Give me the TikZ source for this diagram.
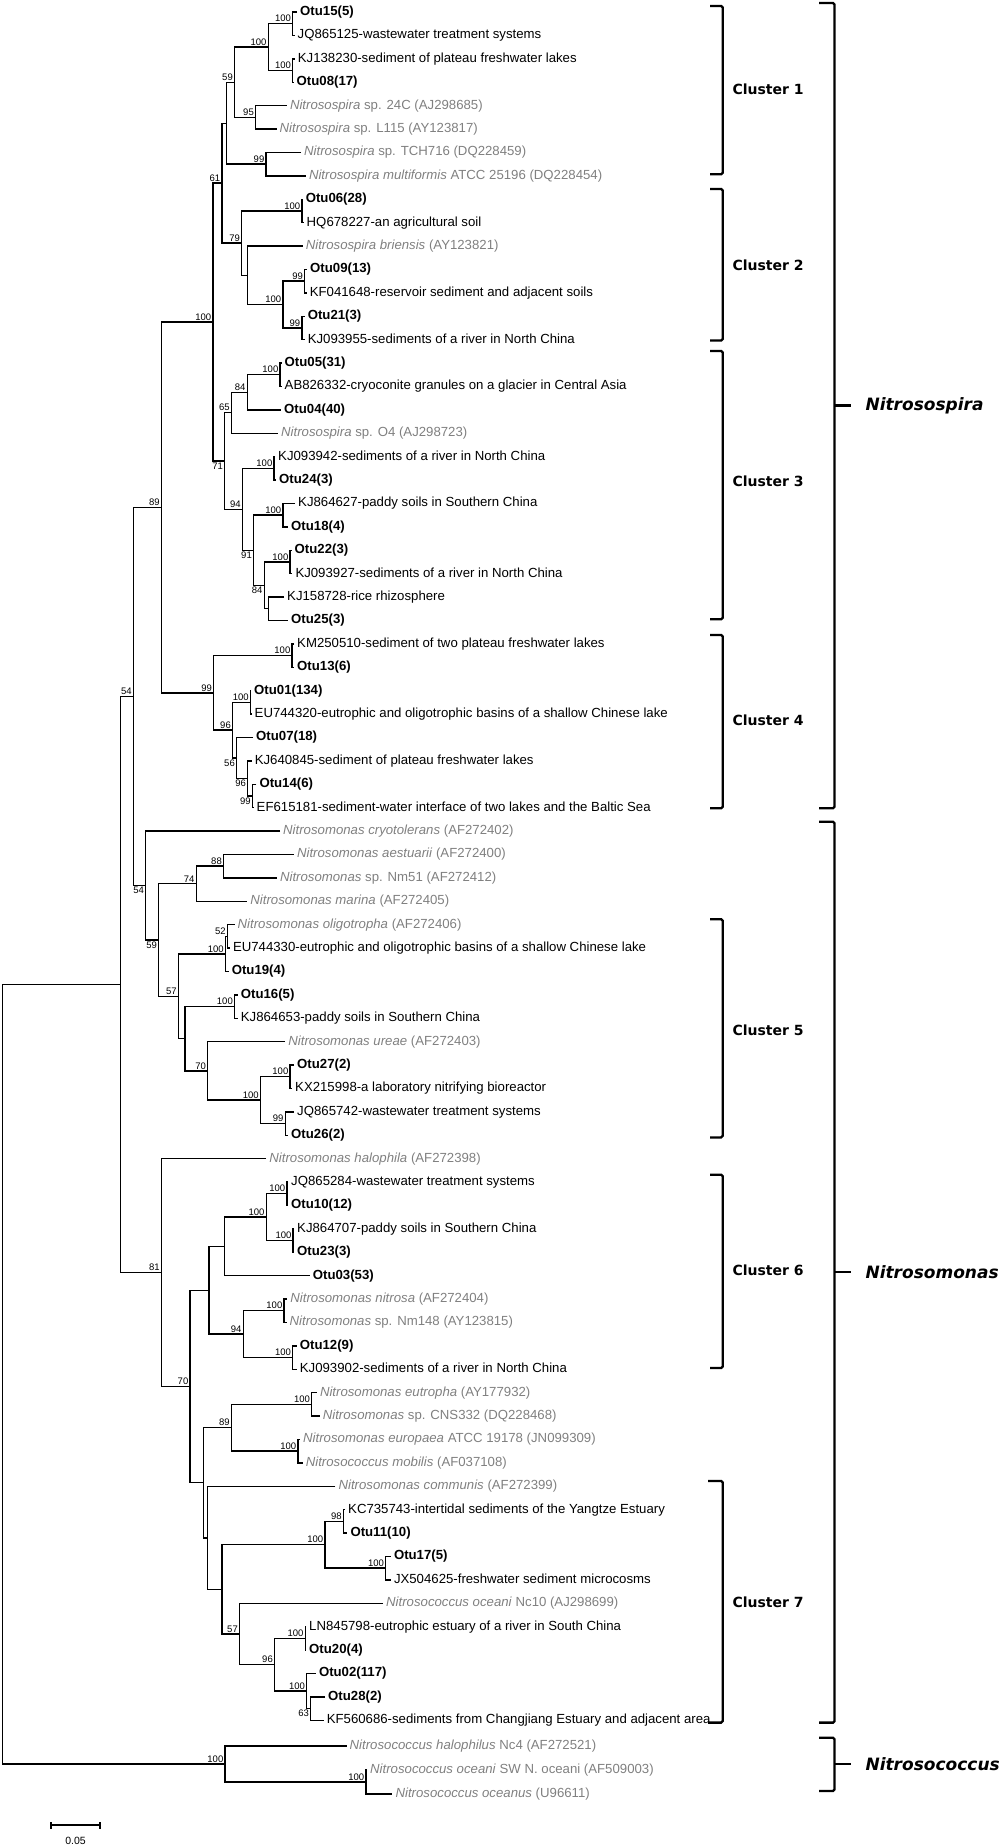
\documentclass[tikz,border=0pt]{standalone}
\usepackage{fontspec}
\setmainfont{Liberation Sans}
\newfontfamily\cladefont{DejaVu Sans}
\definecolor{refgray}{RGB}{128,128,128}
\newcommand{\leafsize}{\fontsize{13.2}{15}\selectfont}
\tikzset{
  branch/.style={line width=1.4pt},
  leaf/.style={anchor=west, inner xsep=3pt, inner ysep=0pt, text height=9.6pt, text depth=2.8pt, font=\leafsize},
  otu/.style={leaf, font=\leafsize\bfseries},
  ref/.style={leaf, text=refgray},
  boot/.style={anchor=south east, inner sep=1.5pt, font=\fontsize{9.5}{10}\selectfont},
  bootlow/.style={boot, anchor=north east},
  clade/.style={line width=2.3pt, rounded corners=1.5pt},
  cluster/.style={anchor=west, font=\cladefont\fontsize{14}{16}\selectfont\bfseries},
  genus/.style={anchor=west, font=\cladefont\fontsize{17}{20}\selectfont\bfseries\itshape}
}

\begin{document}
\begin{tikzpicture}[x=1pt,y=-1pt]
\useasboundingbox (0,0) rectangle (1000,1847);

% leaves
\node (otu15) at (297,12) [otu] {Otu15(5)};
\node (jq865125) at (294.5,35.4) [leaf] {JQ865125-wastewater treatment systems};
\node (kj138230) at (294.7,58.8) [leaf] {KJ138230-sediment of plateau freshwater lakes};
\node (otu08) at (293.5,82.2) [otu] {Otu08(17)};
\node (nsp24c) at (286.8,105.6) [ref] {\textit{Nitrosospira} sp. 24C (AJ298685)};
\node (nspl115) at (276.5,129) [ref] {\textit{Nitrosospira} sp. L115 (AY123817)};
\node (nsptch) at (301,152.4) [ref] {\textit{Nitrosospira} sp. TCH716 (DQ228459)};
\node (nspmult) at (305.8,175.8) [ref] {\textit{Nitrosospira multiformis} ATCC 25196 (DQ228454)};
\node (otu06) at (302.6,199.2) [otu] {Otu06(28)};
\node (hq678227) at (303.5,222.6) [leaf] {HQ678227-an agricultural soil};
\node (nspbrien) at (302.6,246) [ref] {\textit{Nitrosospira briensis} (AY123821)};
\node (otu09) at (307,269.4) [otu] {Otu09(13)};
\node (kf041648) at (306.6,292.8) [leaf] {KF041648-reservoir sediment and adjacent soils};
\node (otu21) at (304.6,316.2) [otu] {Otu21(3)};
\node (kj093955) at (304.6,339.6) [leaf] {KJ093955-sediments of a river in North China};
\node (otu05) at (281.5,363) [otu] {Otu05(31)};
\node (ab826332) at (281.5,386.4) [leaf] {AB826332-cryoconite granules on a glacier in Central Asia};
\node (otu04) at (281,409.8) [otu] {Otu04(40)};
\node (nspo4) at (278,433.2) [ref] {\textit{Nitrosospira} sp. O4 (AJ298723)};
\node (kj093942) at (275,456.6) [leaf] {KJ093942-sediments of a river in North China};
\node (otu24) at (276,480) [otu] {Otu24(3)};
\node (kj864627) at (295,503.4) [leaf] {KJ864627-paddy soils in Southern China};
\node (otu18) at (288,526.8) [otu] {Otu18(4)};
\node (otu22) at (291.5,550.2) [otu] {Otu22(3)};
\node (kj093927) at (292.3,573.6) [leaf] {KJ093927-sediments of a river in North China};
\node (kj158728) at (284,597) [leaf] {KJ158728-rice rhizosphere};
\node (otu25) at (288,620.4) [otu] {Otu25(3)};
\node (km250510) at (294,643.8) [leaf] {KM250510-sediment of two plateau freshwater lakes};
\node (otu13) at (294,667.2) [otu] {Otu13(6)};
\node (otu01) at (251,690.6) [otu] {Otu01(134)};
\node (eu744320) at (251.5,714) [leaf] {EU744320-eutrophic and oligotrophic basins of a shallow Chinese lake};
\node (otu07) at (253,737.4) [otu] {Otu07(18)};
\node (kj640845) at (251.6,760.8) [leaf] {KJ640845-sediment of plateau freshwater lakes};
\node (otu14) at (256.3,784.2) [otu] {Otu14(6)};
\node (ef615181) at (253.5,807.6) [leaf] {EF615181-sediment-water interface of two lakes and the Baltic Sea};
\node (nmcryo) at (280,831) [ref] {\textit{Nitrosomonas cryotolerans} (AF272402)};
\node (nmaest) at (293.9,854.4) [ref] {\textit{Nitrosomonas aestuarii} (AF272400)};
\node (nmnm51) at (276.9,877.8) [ref] {\textit{Nitrosomonas} sp. Nm51 (AF272412)};
\node (nmmar) at (247.2,901.2) [ref] {\textit{Nitrosomonas marina} (AF272405)};
\node (nmolig) at (234.5,924.6) [ref] {\textit{Nitrosomonas oligotropha} (AF272406)};
\node (eu744330) at (229.8,948) [leaf] {EU744330-eutrophic and oligotrophic basins of a shallow Chinese lake};
\node (otu19) at (228.6,971.4) [otu] {Otu19(4)};
\node (otu16) at (237.7,994.8) [otu] {Otu16(5)};
\node (kj864653) at (237.7,1018.2) [leaf] {KJ864653-paddy soils in Southern China};
\node (nmureae) at (285.2,1041.6) [ref] {\textit{Nitrosomonas ureae} (AF272403)};
\node (otu27) at (294,1065) [otu] {Otu27(2)};
\node (kx215998) at (292,1088.4) [leaf] {KX215998-a laboratory nitrifying bioreactor};
\node (jq865742) at (294,1111.8) [leaf] {JQ865742-wastewater treatment systems};
\node (otu26) at (288,1135.2) [otu] {Otu26(2)};
\node (nmhalo) at (266.2,1158.6) [ref] {\textit{Nitrosomonas halophila} (AF272398)};
\node (jq865284) at (288,1182) [leaf] {JQ865284-wastewater treatment systems};
\node (otu10) at (288,1205.4) [otu] {Otu10(12)};
\node (kj864707) at (294,1228.8) [leaf] {KJ864707-paddy soils in Southern China};
\node (otu23) at (294,1252.2) [otu] {Otu23(3)};
\node (otu03) at (309.7,1275.6) [otu] {Otu03(53)};
\node (nmnitrosa) at (287.2,1299) [ref] {\textit{Nitrosomonas nitrosa} (AF272404)};
\node (nmnm148) at (286.5,1322.4) [ref] {\textit{Nitrosomonas} sp. Nm148 (AY123815)};
\node (otu12) at (296.7,1345.8) [otu] {Otu12(9)};
\node (kj093902) at (296.7,1369.2) [leaf] {KJ093902-sediments of a river in North China};
\node (nmeutr) at (316.8,1392.6) [ref] {\textit{Nitrosomonas eutropha} (AY177932)};
\node (nmcns) at (319.6,1416) [ref] {\textit{Nitrosomonas} sp. CNS332 (DQ228468)};
\node (nmeuro) at (300,1439.4) [ref] {\textit{Nitrosomonas europaea} ATCC 19178 (JN099309)};
\node (ncmob) at (302.6,1462.8) [ref] {\textit{Nitrosococcus mobilis} (AF037108)};
\node (nmcomm) at (335.4,1486.2) [ref] {\textit{Nitrosomonas communis} (AF272399)};
\node (kc735743) at (345,1509.6) [leaf] {KC735743-intertidal sediments of the Yangtze Estuary};
\node (otu11) at (347.3,1533) [otu] {Otu11(10)};
\node (otu17) at (390.8,1556.4) [otu] {Otu17(5)};
\node (jx504625) at (390.8,1579.8) [leaf] {JX504625-freshwater sediment microcosms};
\node (ncnc10) at (383,1603.2) [ref] {\textit{Nitrosococcus oceani} Nc10 (AJ298699)};
\node (ln845798) at (306,1626.6) [leaf] {LN845798-eutrophic estuary of a river in South China};
\node (otu20) at (306,1650) [otu] {Otu20(4)};
\node (otu02) at (315.8,1673.4) [otu] {Otu02(117)};
\node (otu28) at (325,1696.8) [otu] {Otu28(2)};
\node (kf560686) at (323.6,1720.2) [leaf] {KF560686-sediments from Changjiang Estuary and adjacent area};
\node (nchalo) at (346.5,1746) [ref] {\textit{Nitrosococcus halophilus} Nc4 (AF272521)};
\node (ncsw) at (367,1770) [ref] {\textit{Nitrosococcus oceani} SW N. oceani (AF509003)};
\node (ncoceanus) at (392.4,1794) [ref] {\textit{Nitrosococcus oceanus} (U96611)};

% inner nodes and bootstrap values
\coordinate (a1) at (292.7,23.7);   \node (a1b) at (a1) [boot] {100};
\coordinate (a2) at (292.7,70.5);   \node (a2b) at (a2) [boot] {100};
\coordinate (a3) at (268.2,47.1);   \node (a3b) at (a3) [boot] {100};
\coordinate (a4) at (255.5,117.3);  \node (a4b) at (a4) [boot] {95};
\coordinate (a5) at (234.5,82.2);   \node (a5b) at (a5) [boot] {59};
\coordinate (a6) at (266,164.1);    \node (a6b) at (a6) [boot] {99};
\coordinate (a7) at (226.6,123.2);
\coordinate (b1) at (301.8,210.9);  \node (b1b) at (b1) [boot] {100};
\coordinate (b2) at (304.6,281.1);  \node (b2b) at (b2) [boot] {99};
\coordinate (b3) at (301.8,327.9);  \node (b3b) at (b3) [boot] {99};
\coordinate (b4) at (282.8,304.5);  \node (b4b) at (b4) [boot] {100};
\coordinate (b5) at (247.2,275.3);
\coordinate (b6) at (241.7,243.1);  \node (b6b) at (b6) [boot] {79};
\coordinate (h61) at (221.9,183.1); \node (h61b) at (h61) [boot] {61};
\coordinate (c1) at (280,374.7);    \node (c1b) at (c1) [boot] {100};
\coordinate (c2) at (247.2,392.3);  \node (c2b) at (c2) [boot] {84};
\coordinate (c3) at (231.4,412.7);  \node (c3b) at (c3) [boot] {65};
\coordinate (c4) at (274,468.3);    \node (c4b) at (c4) [boot] {100};
\coordinate (c5) at (282.8,515.1);  \node (c5b) at (c5) [boot] {100};
\coordinate (c6) at (290,561.9);    \node (c6b) at (c6) [boot] {100};
\coordinate (c7) at (268.2,608.7);
\coordinate (c8) at (264.2,585.3);  \node (c8b) at (c8) [bootlow] {84};
\coordinate (c9) at (253.5,550.2);  \node (c9b) at (c9) [bootlow] {91};
\coordinate (c10) at (242.4,509.3); \node (c10b) at (c10) [boot] {94};
\coordinate (c11) at (224.6,461);   \node (c11b) at (c11) [bootlow] {71};
\coordinate (p100) at (212.8,322);  \node (p100b) at (p100) [boot] {100};
\coordinate (d1) at (292,655.5);    \node (d1b) at (d1) [boot] {100};
\coordinate (d2) at (250.3,702.3);  \node (d2b) at (d2) [boot] {100};
\coordinate (d3) at (252.3,795.9);  \node (d3b) at (d3) [bootlow] {99};
\coordinate (d4) at (247.6,778.4);  \node (d4b) at (d4) [bootlow] {96};
\coordinate (d5) at (236.5,757.9);  \node (d5b) at (d5) [bootlow] {56};
\coordinate (d6) at (232.5,730.1);  \node (d6b) at (d6) [boot] {96};
\coordinate (d7) at (213.6,692.8);  \node (d7b) at (d7) [boot] {99};
\coordinate (spira) at (161.3,507.4); \node (spirab) at (spira) [boot] {89};
\coordinate (e1) at (223.5,866.1);  \node (e1b) at (e1) [boot] {88};
\coordinate (e2) at (196.2,883.7);  \node (e2b) at (e2) [boot] {74};
\coordinate (e3) at (227.4,936.3);  \node (e3b) at (e3) [boot] {52};
\coordinate (e4) at (225.4,953.9);  \node (e4b) at (e4) [boot] {100};
\coordinate (e5) at (234.5,1006.5); \node (e5b) at (e5) [boot] {100};
\coordinate (e6) at (290,1076.7);   \node (e6b) at (e6) [boot] {100};
\coordinate (e7) at (285.2,1123.5); \node (e7b) at (e7) [boot] {99};
\coordinate (e8) at (260.3,1100.1); \node (e8b) at (e8) [boot] {100};
\coordinate (e9) at (207.6,1070.9); \node (e9b) at (e9) [boot] {70};
\coordinate (e10) at (185,1038.7);
\coordinate (e11) at (178.3,996.3); \node (e11b) at (e11) [boot] {57};
\coordinate (e12) at (158.6,940);   \node (e12b) at (e12) [bootlow] {59};
\coordinate (e13) at (145.7,885.5); \node (e13b) at (e13) [bootlow] {54};
\coordinate (top54) at (133.3,696.5); \node (top54b) at (top54) [boot] {54};
\coordinate (f1) at (286.8,1193.7); \node (f1b) at (f1) [boot] {100};
\coordinate (f2) at (293.1,1240.5); \node (f2b) at (f2) [boot] {100};
\coordinate (f3) at (266.2,1217.1); \node (f3b) at (f3) [boot] {100};
\coordinate (f4) at (224.6,1246.4);
\coordinate (f5) at (284,1310.7);   \node (f5b) at (f5) [boot] {100};
\coordinate (f6) at (292.7,1357.5); \node (f6b) at (f6) [boot] {100};
\coordinate (f7) at (243.2,1334.1); \node (f7b) at (f7) [boot] {94};
\coordinate (f8) at (208.8,1290.2);
\coordinate (g1) at (311.7,1404.3); \node (g1b) at (g1) [boot] {100};
\coordinate (g2) at (297.9,1451.1); \node (g2b) at (g2) [boot] {100};
\coordinate (g3) at (231.4,1427.7); \node (g3b) at (g3) [boot] {89};
\coordinate (g4) at (343.4,1521.3); \node (g4b) at (g4) [boot] {98};
\coordinate (g5) at (385.7,1568.1); \node (g5b) at (g5) [boot] {100};
\coordinate (g6) at (324.8,1544.7); \node (g6b) at (g6) [boot] {100};
\coordinate (g7) at (305.2,1638.3); \node (g7b) at (g7) [boot] {100};
\coordinate (g8) at (310.7,1708.5); \node (g8b) at (g8) [bootlow] {63};
\coordinate (g9) at (306.6,1691);   \node (g9b) at (g9) [boot] {100};
\coordinate (g10) at (274.5,1664.6); \node (g10b) at (g10) [boot] {96};
\coordinate (g11) at (239.5,1633.9); \node (g11b) at (g11) [boot] {57};
\coordinate (g12) at (222,1589.3);
\coordinate (g13) at (207.6,1537.8);
\coordinate (g14) at (203.7,1482.7);
\coordinate (g15) at (190,1386.5);  \node (g15b) at (g15) [boot] {70};
\coordinate (monas) at (161.3,1272.5); \node (monasb) at (monas) [boot] {81};
\coordinate (ingroup) at (120.7,984.5);
\coordinate (coc2) at (365.8,1782); \node (coc2b) at (coc2) [boot] {100};
\coordinate (coc1) at (225,1764);   \node (coc1b) at (coc1) [boot] {100};
\coordinate (root) at (2.7,1374.3);

\draw[branch]
  (otu15) -| (a1) |- (jq865125)
  (kj138230) -| (a2) |- (otu08)
  (a1) -| (a3) |- (a2)
  (nsp24c) -| (a4) |- (nspl115)
  (a3) -| (a5) |- (a4)
  (nsptch) -| (a6) |- (nspmult)
  (a5) -| (a7) |- (a6)
  (otu06) -| (b1) |- (hq678227)
  (otu09) -| (b2) |- (kf041648)
  (otu21) -| (b3) |- (kj093955)
  (b2) -| (b4) |- (b3)
  (nspbrien) -| (b5) |- (b4)
  (b1) -| (b6) |- (b5)
  (a7) -| (h61) |- (b6)
  (otu05) -| (c1) |- (ab826332)
  (c1) -| (c2) |- (otu04)
  (c2) -| (c3) |- (nspo4)
  (kj093942) -| (c4) |- (otu24)
  (kj864627) -| (c5) |- (otu18)
  (otu22) -| (c6) |- (kj093927)
  (kj158728) -| (c7) |- (otu25)
  (c6) -| (c8) |- (c7)
  (c5) -| (c9) |- (c8)
  (c4) -| (c10) |- (c9)
  (c3) -| (c11) |- (c10)
  (h61) -| (p100) |- (c11)
  (km250510) -| (d1) |- (otu13)
  (otu01) -| (d2) |- (eu744320)
  (otu14) -| (d3) |- (ef615181)
  (kj640845) -| (d4) |- (d3)
  (otu07) -| (d5) |- (d4)
  (d2) -| (d6) |- (d5)
  (d1) -| (d7) |- (d6)
  (p100) -| (spira) |- (d7)
  (nmaest) -| (e1) |- (nmnm51)
  (e1) -| (e2) |- (nmmar)
  (nmolig) -| (e3) |- (eu744330)
  (e3) -| (e4) |- (otu19)
  (otu16) -| (e5) |- (kj864653)
  (otu27) -| (e6) |- (kx215998)
  (jq865742) -| (e7) |- (otu26)
  (e6) -| (e8) |- (e7)
  (nmureae) -| (e9) |- (e8)
  (e5) -| (e10) |- (e9)
  (e4) -| (e11) |- (e10)
  (e2) -| (e12) |- (e11)
  (nmcryo) -| (e13) |- (e12)
  (spira) -| (top54) |- (e13)
  (jq865284) -| (f1) |- (otu10)
  (kj864707) -| (f2) |- (otu23)
  (f1) -| (f3) |- (f2)
  (f3) -| (f4) |- (otu03)
  (nmnitrosa) -| (f5) |- (nmnm148)
  (otu12) -| (f6) |- (kj093902)
  (f5) -| (f7) |- (f6)
  (f4) -| (f8) |- (f7)
  (nmeutr) -| (g1) |- (nmcns)
  (nmeuro) -| (g2) |- (ncmob)
  (g1) -| (g3) |- (g2)
  (kc735743) -| (g4) |- (otu11)
  (otu17) -| (g5) |- (jx504625)
  (g4) -| (g6) |- (g5)
  (ln845798) -| (g7) |- (otu20)
  (otu28) -| (g8) |- (kf560686)
  (otu02) -| (g9) |- (g8)
  (g7) -| (g10) |- (g9)
  (ncnc10) -| (g11) |- (g10)
  (g6) -| (g12) |- (g11)
  (nmcomm) -| (g13) |- (g12)
  (g3) -| (g14) |- (g13)
  (f8) -| (g15) |- (g14)
  (nmhalo) -| (monas) |- (g15)
  (top54) -| (ingroup) |- (monas)
  (ncsw) -| (coc2) |- (ncoceanus)
  (nchalo) -| (coc1) |- (coc2)
  (ingroup) -| (root) |- (coc1);

% scale bar
\coordinate (sb0) at (51,1825);
\coordinate (sb1) at (100,1825);
\draw[branch] (sb0) -- (sb1);
\draw[branch] ([yshift=-3.5pt]sb0) -- ([yshift=3.5pt]sb0);
\draw[branch] ([yshift=-3.5pt]sb1) -- ([yshift=3.5pt]sb1);
\node (sblab) at (75.5,1841) [font=\fontsize{10.5}{12}\selectfont] {0.05};

% clusters
\draw[clade] (710,5.9) -- (722.7,5.9) -- (722.7,174.3) -- (710,174.3);
\draw[clade] (710,189) -- (722.7,189) -- (722.7,340.5) -- (710,340.5);
\draw[clade] (710,351) -- (722.7,351) -- (722.7,619.3) -- (710,619.3);
\draw[clade] (710,635) -- (722.7,635) -- (722.7,808.3) -- (710,808.3);
\draw[clade] (710,919.3) -- (722.7,919.3) -- (722.7,1137.4) -- (710,1137.4);
\draw[clade] (710,1174.8) -- (722.7,1174.8) -- (722.7,1368) -- (710,1368);
\draw[clade] (708,1481) -- (722.7,1481) -- (722.7,1722.6) -- (708,1722.6);
\node (clu1) at (729,89) [cluster] {Cluster 1};
\node (clu2) at (729,265) [cluster] {Cluster 2};
\node (clu3) at (729,481) [cluster] {Cluster 3};
\node (clu4) at (729,720) [cluster] {Cluster 4};
\node (clu5) at (729,1030) [cluster] {Cluster 5};
\node (clu6) at (729,1270) [cluster] {Cluster 6};
\node (clu7) at (729,1602) [cluster] {Cluster 7};

% genera
\draw[clade] (819,3) -- (834.5,3) -- (834.5,808.3) -- (819,808.3);
\draw[clade] (834.5,405.5) -- (850.5,405.5);
\draw[clade] (819,821.8) -- (834.5,821.8) -- (834.5,1722.6) -- (819,1722.6);
\draw[clade] (834.5,1272.2) -- (850.5,1272.2);
\draw[clade] (819,1737.7) -- (834.5,1737.7) -- (834.5,1790.9) -- (819,1790.9);
\draw[clade] (834.5,1764.3) -- (850.5,1764.3);
\node (nspira) at (862,405.5) [genus] {Nitrosospira};
\node (nmonas) at (862,1272.2) [genus] {Nitrosomonas};
\node (ncoccus) at (862,1764.3) [genus] {Nitrosococcus};
\end{tikzpicture}
\end{document}
